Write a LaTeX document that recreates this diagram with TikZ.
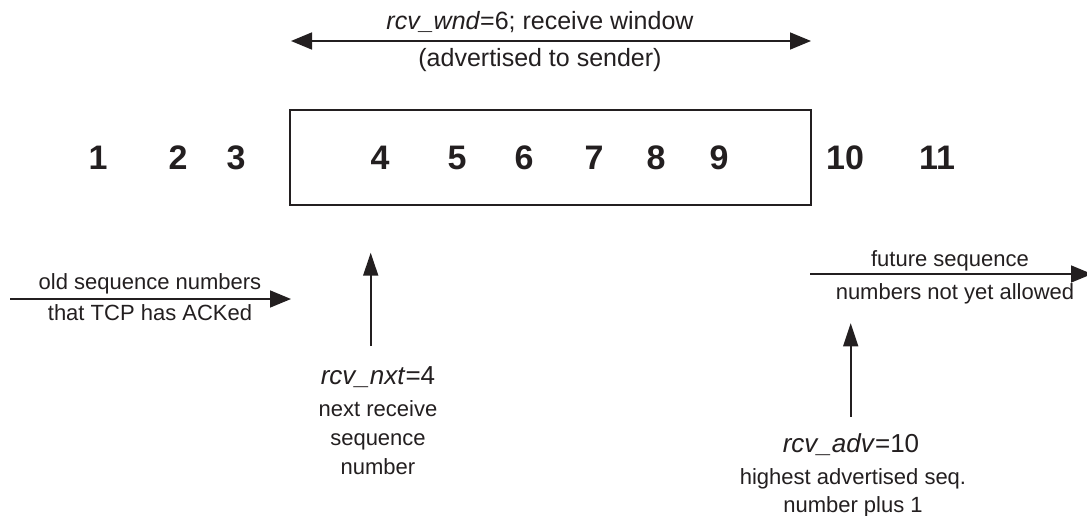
\documentclass[tikz,border=0pt]{standalone}
\usepackage{fontspec}
\setmainfont{Liberation Sans}
\usetikzlibrary{arrows.meta}
\definecolor{ink}{HTML}{231F20}
\tikzset{
  every node/.style={inner sep=0pt, outer sep=0pt, text=ink},
  seqnum/.style={anchor=base, font=\fontsize{34}{40}\selectfont\bfseries},
  lbl/.style={anchor=base, font=\fontsize{22}{26}\selectfont},
  varlbl/.style={anchor=base, font=\fontsize{26}{30}\selectfont},
  toplbl/.style={anchor=base, font=\fontsize{25}{30}\selectfont},
  hpointer/.style={draw=ink, line width=1.6pt, -{Triangle[length=21pt,width=17pt]}},
  vpointer/.style={draw=ink, line width=1.6pt, -{Triangle[length=23pt,width=15pt]}},
}
\begin{document}
\begin{tikzpicture}[x=1pt,y=-1pt]
\useasboundingbox[fill=white] (0,0) rectangle (1087,516);

% receive window box
\node[draw=ink, line width=2pt, minimum width=521pt, minimum height=94pt] (win) at (550.5,157.5) {};

% sequence numbers
\foreach \n/\x in {1/98,2/178,3/236,4/380,5/457,6/524,7/594,8/656,9/719,10/845,11/937}
  \node[seqnum] (n\n) at (\x,170) {\n};

% window width arrow
\coordinate (wl) at (291,41);
\coordinate (wr) at (811,41);
\draw[draw=ink, line width=1.6pt, {Triangle[length=21pt,width=17pt]}-{Triangle[length=21pt,width=17pt]}] (wl) -- (wr);
\node[toplbl] (wnd) at (540,30) {\textit{rcv\_wnd}=6; receive window};
\node[toplbl] (wndsub) at (540,67) {(advertised to sender)};

% old sequence numbers
\coordinate (ol) at (10,299);
\coordinate (or) at (291,299);
\draw[hpointer] (ol) -- (or);
\node[lbl] (old1) at (150,289) {old sequence numbers};
\node[lbl] (old2) at (150,320) {that TCP has ACKed};

% future sequence numbers
\coordinate (fl) at (810,274);
\coordinate (fr) at (1092,274);
\draw[hpointer] (fl) -- (fr);
\node[lbl] (fut1) at (950,266) {future sequence};
\node[lbl] (fut2) at (955,299) {numbers not yet allowed};

% rcv_nxt pointer
\coordinate (nb) at (370.7,346);
\coordinate (nt) at (370.7,252.7);
\draw[vpointer] (nb) -- (nt);
\node[varlbl] (nxt) at (378,384) {\textit{rcv\_nxt}=4};
\node[lbl] (nxt1) at (378,416) {next receive};
\node[lbl] (nxt2) at (378,445) {sequence};
\node[lbl] (nxt3) at (378,474) {number};

% rcv_adv pointer
\coordinate (ab) at (850.7,416.7);
\coordinate (at) at (850.7,323.3);
\draw[vpointer] (ab) -- (at);
\node[varlbl] (adv) at (851,452) {\textit{rcv\_adv}=10};
\node[lbl] (adv1) at (853,484) {highest advertised seq.};
\node[lbl] (adv2) at (853,512) {number plus 1};
\end{tikzpicture}
\end{document}
